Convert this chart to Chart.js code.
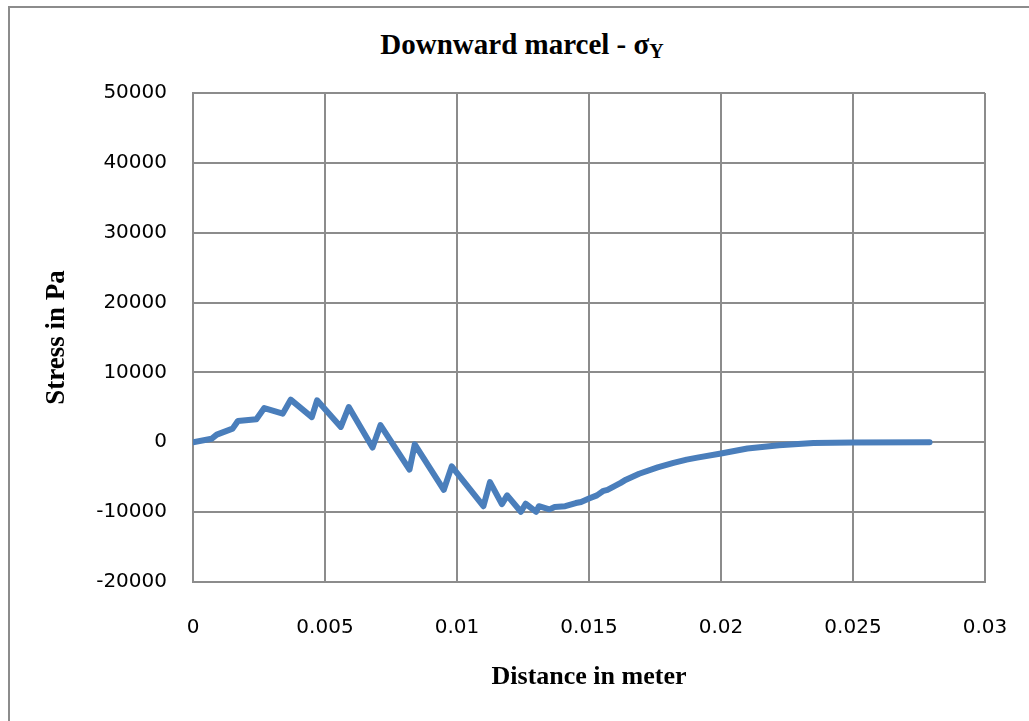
<!DOCTYPE html>
<html>
<head>
<meta charset="utf-8">
<script src="https://cdn.jsdelivr.net/npm/chart.js@4/dist/chart.umd.min.js"></script>
<style>
  body { margin: 0; background: #fff; }
  #wrap { position: relative; width: 1029px; height: 721px; overflow: hidden; }
  #frame { position: absolute; left: 8px; top: 6px; width: 1100px; height: 800px;
           border-left: 2px solid #8c8c8c; border-top: 2px solid #8c8c8c; }
  #title { position: absolute; left: 0; top: 30px; width: 1044px; text-align: center;
           font: bold 29px "Liberation Serif", "Times New Roman", serif; line-height: 29px; color: #000; }
  #title sub { font-size: 20px; position: relative; top: 4px; vertical-align: baseline; }
  canvas { position: absolute; left: 0; top: 0; }
</style>
</head>
<body>
<div id="wrap">
  <div id="frame"></div>
  <div id="title">Downward marcel - σ<sub>Y</sub></div>
  <canvas id="stressChart" width="1029" height="721"></canvas>
</div>
<script>
// distance in meter
var distance = [0, 0.0007, 0.0009, 0.0015, 0.0017, 0.0024, 0.0027, 0.0034, 0.0037, 0.0045,
  0.0047, 0.0056, 0.0059, 0.0068, 0.0071, 0.0082, 0.0084, 0.0095, 0.0098, 0.0110,
  0.01125, 0.0117, 0.0119, 0.01242, 0.0126, 0.0130, 0.0131, 0.0135, 0.0137, 0.0141,
  0.0145, 0.0147, 0.0150, 0.0153, 0.01555, 0.0157, 0.0162, 0.0164, 0.0169, 0.0176,
  0.0182, 0.0187, 0.0191, 0.0200, 0.0210, 0.0222, 0.0235, 0.0250, 0.0279];
// stress in Pa
var stress = [0, 500, 1100, 1950, 3050, 3300, 4900, 4100, 6100, 3600,
  6000, 2200, 5050, -750, 2450, -3900, -300, -6800, -3450, -9150,
  -5700, -8850, -7600, -9950, -8800, -9950, -9150, -9600, -9250, -9150,
  -8700, -8550, -8050, -7600, -6950, -6800, -5800, -5350, -4500, -3600,
  -2950, -2480, -2200, -1600, -900, -430, -100, -30, 0];

var xTicks = [0, 0.005, 0.01, 0.015, 0.02, 0.025, 0.03];
var yTicks = [-20000, -10000, 0, 10000, 20000, 30000, 40000, 50000];

var points = distance.map(function (d, i) { return { x: d, y: stress[i] }; });

Chart.defaults.font.family = '"DejaVu Sans", sans-serif';
Chart.defaults.color = '#000';

var gridColor = '#8c8c8c';
var ctx = document.getElementById('stressChart');
var stressChart = new Chart(ctx, {
    type: 'scatter',
    data: {
        datasets: [{
            label: 'sigma Y',
            data: points,
            showLine: true,
            borderColor: '#4a7ebb',
            backgroundColor: '#4a7ebb',
            borderWidth: 6,
            borderCapStyle: 'round',
            borderJoinStyle: 'round',
            pointRadius: 0,
            tension: 0
        }]
    },
    options: {
        responsive: false,
        animation: false,
        devicePixelRatio: 1,
        layout: { padding: { top: 93, right: 44, left: 0, bottom: 0 } },
        plugins: { legend: { display: false }, tooltip: { enabled: false } },
        scales: {
            x: {
                type: 'linear',
                min: xTicks[0],
                max: xTicks[xTicks.length - 1],
                afterBuildTicks: function (axis) { axis.ticks = xTicks.map(function (v) { return { value: v }; }); },
                afterFit: function (axis) {
                    axis.height = 139;
                    axis.paddingLeft = 0;
                    axis.paddingRight = 0;
                },
                ticks: {
                    font: { size: 20 },
                    padding: 34,
                    maxRotation: 0,
                    callback: function (v) { return String(Number(v.toFixed(3))); }
                },
                grid: { color: gridColor, lineWidth: 2, drawTicks: false },
                border: { color: gridColor, width: 2 },
                title: {
                    display: true,
                    text: 'Distance in meter',
                    font: { family: '"Liberation Serif", "Times New Roman", serif', size: 26, weight: 'bold' },
                    padding: { top: 0, bottom: 28 }
                }
            },
            y: {
                min: yTicks[0],
                max: yTicks[yTicks.length - 1],
                afterBuildTicks: function (axis) { axis.ticks = yTicks.map(function (v) { return { value: v }; }); },
                afterFit: function (axis) {
                    axis.width = 193;
                    axis.paddingTop = 0;
                    axis.paddingBottom = 0;
                },
                ticks: {
                    font: { size: 20 },
                    padding: 26,
                    callback: function (v) { return String(v); }
                },
                grid: { color: gridColor, lineWidth: 2, drawTicks: false },
                border: { color: gridColor, width: 2 },
                title: {
                    display: true,
                    text: 'Stress in Pa',
                    font: { family: '"Liberation Serif", "Times New Roman", serif', size: 27, weight: 'bold' },
                    padding: { top: 41, bottom: 0 }
                }
            }
        }
    }
});
</script>
</body>
</html>
